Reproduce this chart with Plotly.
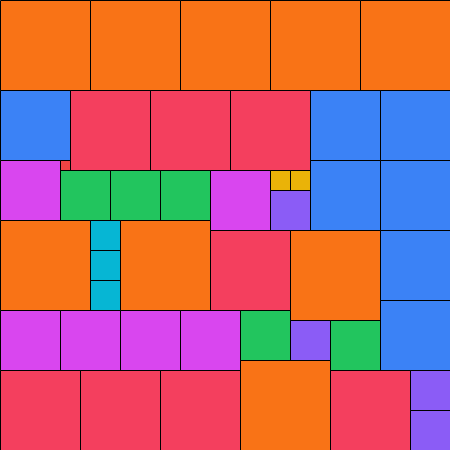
import plotly.graph_objects as go

# square packing: left, top, side (grid units of 10px)
left = [0, 9, 18, 27, 36, 0, 7, 15, 23, 31, 38, 6, 0, 6, 11, 16, 21, 27, 29, 27, 31, 38,
        0, 9, 9, 9, 12, 21, 29, 38, 0, 6, 12, 18, 24, 29, 33, 38, 0, 8, 16, 24, 33, 41, 41]
top = [0, 0, 0, 0, 0, 9, 9, 9, 9, 9, 9, 16, 16, 17, 17, 17, 17, 17, 17, 19, 16, 16,
       22, 22, 25, 28, 22, 23, 23, 23, 31, 31, 31, 31, 31, 32, 32, 30, 37, 37, 37, 36, 37, 37, 41]
side = [9, 9, 9, 9, 9, 7, 8, 8, 8, 7, 7, 1, 6, 5, 5, 5, 6, 2, 2, 4, 7, 7,
        9, 3, 3, 3, 9, 8, 9, 7, 6, 6, 6, 6, 5, 4, 5, 7, 8, 8, 8, 9, 8, 4, 4]

SIZE_COLORS = {
    9: "#F97316",
    8: "#F43F5E",
    7: "#3B82F6",
    6: "#D946EF",
    5: "#22C55E",
    4: "#8B5CF6",
    3: "#06B6D4",
    2: "#EAB308",
    1: "#EF4444",
}

fig = go.Figure()
for x0, y0, s in zip(left, top, side):
    fig.add_trace(
        go.Scatter(
            x=[x0, x0 + s, x0 + s, x0, x0],
            y=[y0, y0, y0 + s, y0 + s, y0],
            mode="lines",
            fill="toself",
            fillcolor=SIZE_COLORS[s],
            line={"color": "#000000", "width": 1},
            hoverinfo="skip",
            showlegend=False,
        )
    )

# half-pixel offset so 1px borders land crisply on pixel columns
fig.update_xaxes(range=[-0.05, 44.95], visible=False, fixedrange=True)
fig.update_yaxes(range=[44.95, -0.05], visible=False, fixedrange=True)
fig.update_layout(
    width=450,
    height=450,
    margin={"l": 0, "r": 0, "t": 0, "b": 0},
    paper_bgcolor="#FFFFFF",
    plot_bgcolor="#FFFFFF",
    showlegend=False,
)
fig.write_html(
    "out.html",
    config={"displayModeBar": False},
    post_script="document.body.style.margin='0';",
)
